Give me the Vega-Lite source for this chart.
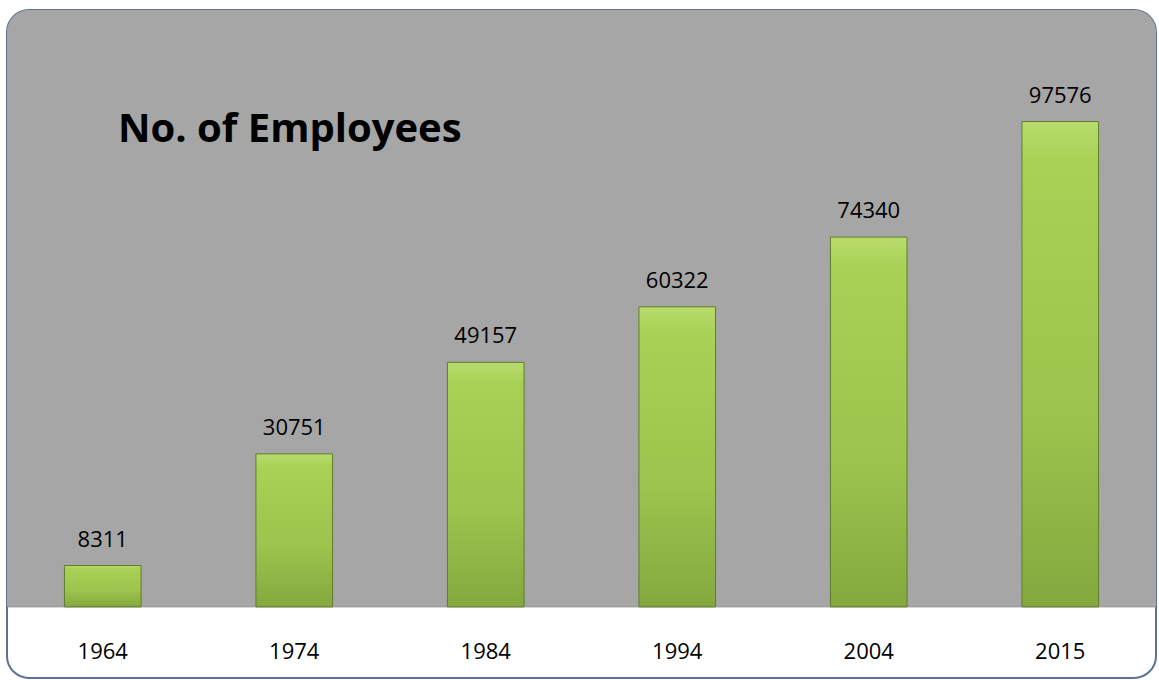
{
  "$schema": "https://vega.github.io/schema/vega-lite/v6.json",
  "autosize": "none",
  "width": 1149,
  "height": 668,
  "padding": {"left": 7, "top": 10, "right": 3, "bottom": 2},
  "background": "#ffffff",
  "config": {
    "view": {"stroke": "#5b7394", "strokeWidth": 2, "cornerRadius": 22, "fill": "#ffffff"},
    "font": "Open Sans"
  },
  "data": {
    "values": [
      {"year": "1964", "employees": 8311},
      {"year": "1974", "employees": 30751},
      {"year": "1984", "employees": 49157},
      {"year": "1994", "employees": 60322},
      {"year": "2004", "employees": 74340},
      {"year": "2015", "employees": 97576}
    ]
  },
  "encoding": {
    "x": {
      "field": "year",
      "type": "ordinal",
      "scale": {"paddingInner": 0.6, "paddingOuter": 0.3},
      "axis": {
        "title": null,
        "orient": "bottom",
        "offset": -20,
        "labelPadding": 0,
        "labelBaseline": "alphabetic",
        "domain": false,
        "ticks": false,
        "labelAngle": 0,
        "labelFontSize": 22,
        "labelColor": "#000000",
        "labelFont": "Open Sans",
        "zindex": 2
      }
    }
  },
  "layer": [
    {
      "data": {"values": [{"lo": 0, "hi": 120000}]},
      "mark": {"type": "rect", "fill": "#a6a6a6", "cornerRadiusTopLeft": 22, "cornerRadiusTopRight": 22},
      "encoding": {
        "x": null,
        "y": {"field": "hi", "type": "quantitative", "scale": {"domain": [-14300, 120000], "nice": false}, "axis": null},
        "y2": {"field": "lo"}
      }
    },
    {
      "data": {"values": [{"base": 0}]},
      "mark": {"type": "rule", "color": "#8e8e8e", "strokeWidth": 1},
      "encoding": {
        "x": null,
        "y": {"field": "base", "type": "quantitative"}
      }
    },
    {
      "mark": {
        "type": "bar",
        "stroke": "#5f7d2a",
        "strokeWidth": 1,
        "fill": {
          "x1": 0, "y1": 0, "x2": 0, "y2": 1,
          "gradient": "linear",
          "stops": [
            {"offset": 0, "color": "#b9dc6e"},
            {"offset": 0.08, "color": "#a9d156"},
            {"offset": 0.6, "color": "#9cc44e"},
            {"offset": 1, "color": "#84a83e"}
          ]
        }
      },
      "encoding": {
        "y": {"field": "employees", "type": "quantitative"}
      }
    },
    {
      "mark": {"type": "text", "baseline": "alphabetic", "dy": -19, "fontSize": 22, "color": "#000000", "font": "Open Sans"},
      "encoding": {
        "y": {"field": "employees", "type": "quantitative"},
        "text": {"field": "employees", "type": "quantitative", "format": "d"}
      }
    }
  ],
  "title": {
    "text": "No. of Employees",
    "anchor": "start",
    "frame": "group",
    "orient": "top",
    "baseline": "alphabetic",
    "offset": -172,
    "dx": 111,
    "fontSize": 40,
    "fontWeight": "bold",
    "font": "Open Sans",
    "color": "#000000"
  }
}
